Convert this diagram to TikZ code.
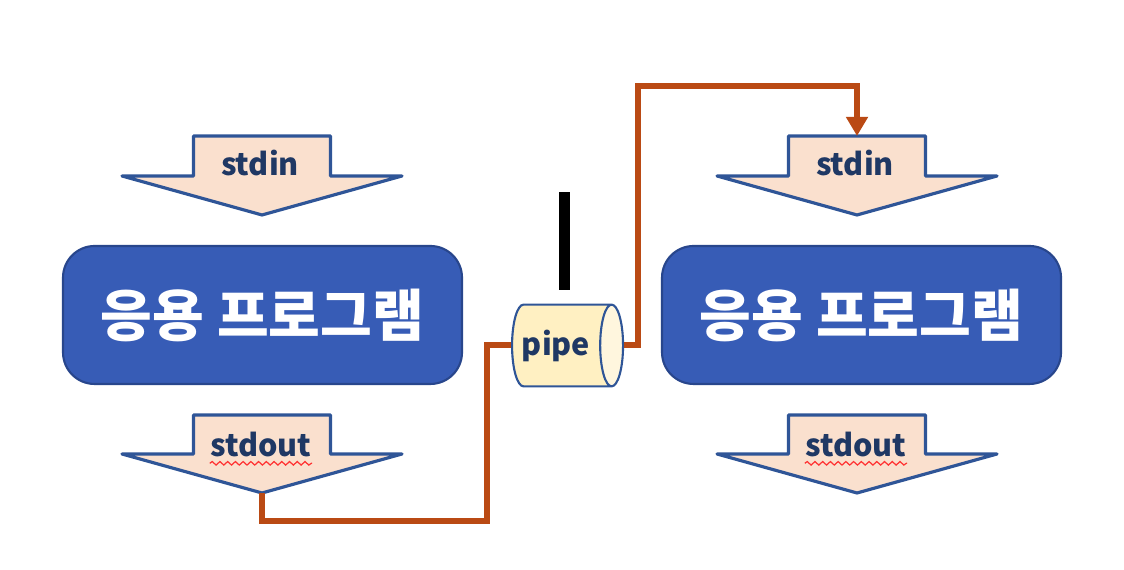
\documentclass[tikz,border=0pt]{standalone}
\usepackage{fontspec}
\setmainfont{Noto Sans CJK KR}
\newfontfamily\kofont{Noto Sans CJK KR}
\definecolor{pipeorange}{RGB}{186,74,20}
\definecolor{arrowpeach}{RGB}{250,224,206}
\definecolor{arrowline}{RGB}{47,85,151}
\definecolor{appblue}{RGB}{55,92,182}
\definecolor{appline}{RGB}{40,70,140}
\definecolor{labelnavy}{RGB}{31,56,100}
\definecolor{pipebody}{RGB}{255,240,194}
\definecolor{pipeend}{RGB}{255,246,222}
\usetikzlibrary{arrows.meta,shapes.geometric,decorations.pathmorphing}

\begin{document}
\begin{tikzpicture}[
  streamshape/.style={draw=arrowline, fill=arrowpeach, line width=0.9pt, line join=round},
  streamlabel/.style={inner sep=0pt, font=\fontsize{8.7}{10}\selectfont\bfseries, text=labelnavy},
  appbox/.style={draw=appline, fill=appblue, rounded corners=9pt, line width=0.6pt, minimum width=3.99cm, minimum height=1.38cm, font=\kofont\bfseries\fontsize{16}{19}\selectfont, text=white},
  pipeline/.style={draw=pipeorange, line width=1.7pt},
  squiggle/.style={draw=red!80, line width=0.35pt, decorate, decoration={snake, amplitude=0.5pt, segment length=2.2pt}}
]
  \useasboundingbox (0,0) rectangle (11.24,5.70);

  %% Left program (stdin, box, stdout)
  \draw[streamshape] (1.935,4.34) -- (3.305,4.34) -- (3.305,3.94) -- (4.02,3.94) -- (2.62,3.55) -- (1.22,3.94) -- (1.935,3.94) -- cycle;
  \coordinate (in1tip) at (2.62,3.55);
  \node[streamlabel] (in1) at (2.60,4.07) {stdin};
  \node[appbox] (app1) at (2.625,2.55) {응용 프로그램};
  \draw[streamshape] (1.935,1.55) -- (3.305,1.55) -- (3.305,1.16) -- (4.02,1.16) -- (2.62,0.77) -- (1.22,1.16) -- (1.935,1.16) -- cycle;
  \coordinate (out1tip) at (2.62,0.77);
  \node[streamlabel] (out1) at (2.61,1.25) {stdout};
  \draw[squiggle] ([yshift=-1.8pt]out1.base west) -- ([yshift=-1.8pt]out1.base east);

  %% Right program (stdin, box, stdout)
  \draw[streamshape] (7.885,4.34) -- (9.255,4.34) -- (9.255,3.94) -- (9.97,3.94) -- (8.57,3.55) -- (7.17,3.94) -- (7.885,3.94) -- cycle;
  \coordinate (in2top) at (8.57,4.34);
  \node[streamlabel] (in2) at (8.55,4.07) {stdin};
  \node[appbox] (app2) at (8.615,2.55) {응용 프로그램};
  \draw[streamshape] (7.885,1.55) -- (9.255,1.55) -- (9.255,1.16) -- (9.97,1.16) -- (8.57,0.77) -- (7.17,1.16) -- (7.885,1.16) -- cycle;
  \node[streamlabel] (out2) at (8.56,1.25) {stdout};
  \draw[squiggle] ([yshift=-1.8pt]out2.base west) -- ([yshift=-1.8pt]out2.base east);

  %% Pipe in the middle
  \node[fill=black, inner sep=0pt, minimum width=0.11cm, minimum height=0.98cm] (bar) at (5.645,3.29) {};
  \node[cylinder, draw=arrowline, line width=0.6pt, cylinder uses custom fill, cylinder body fill=pipebody, cylinder end fill=pipeend, aspect=0.28, inner xsep=0pt, inner ysep=0.25cm, minimum height=1.11cm, anchor=west, font=\fontsize{8.7}{10}\selectfont\bfseries, text=labelnavy] (pipe) at (5.11,2.245) {pipe};

  %% Connections through the pipe
  \coordinate (low) at (4.87,0.49);
  \coordinate (high) at (6.38,4.84);
  \draw[pipeline] (out1tip) |- (low) |- (pipe.west);
  \draw[pipeline, -{Triangle[width=0.21cm,length=0.19cm]}] (pipe.east) -| (high) -| (in2top);
\end{tikzpicture}
\end{document}
